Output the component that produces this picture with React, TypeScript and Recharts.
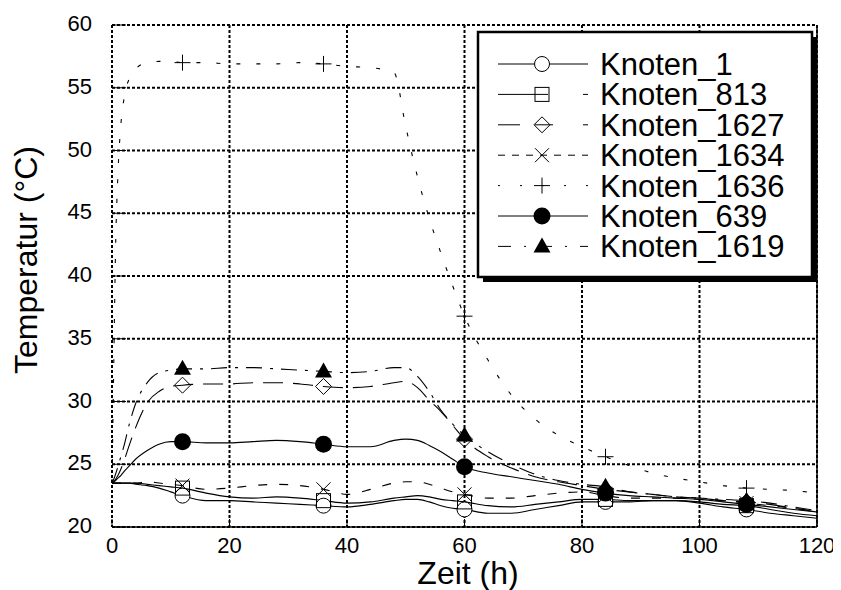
import { LineChart, Line, XAxis, YAxis, CartesianGrid, ReferenceLine } from 'recharts';

// time axis (h), shared by all series
const hours = [0, 0.3, 0.6, 1, 1.5, 2, 3, 4, 6, 8, 10, 12, 16, 20, 24, 28, 32, 36, 40, 44, 48, 50, 52, 54, 56, 58, 60, 64, 68, 72, 76, 80, 84, 88, 92, 96, 100, 104, 108, 112, 116, 120];

const knoten1 = [23.5, 23.5, 23.5, 23.5, 23.5, 23.5, 23.5, 23.4, 23.3, 23.1, 22.8, 22.5, 22.1, 22.1, 22.0, 21.9, 21.8, 21.7, 21.6, 21.8, 22.1, 22.2, 22.2, 22.0, 21.7, 21.5, 21.4, 21.1, 21.1, 21.4, 21.7, 22.0, 22.0, 22.0, 22.1, 22.1, 21.9, 21.6, 21.4, 21.1, 20.9, 20.7];
const knoten813 = [23.5, 23.5, 23.5, 23.5, 23.5, 23.5, 23.5, 23.5, 23.4, 23.3, 23.2, 23.1, 22.7, 22.4, 22.3, 22.4, 22.3, 22.1, 21.9, 22.0, 22.3, 22.4, 22.5, 22.4, 22.2, 22.1, 22.0, 21.7, 21.6, 21.8, 22.0, 22.2, 22.2, 22.1, 22.1, 22.1, 22.0, 21.8, 21.7, 21.4, 21.1, 20.9];
const knoten1627 = [23.5, 23.6, 23.8, 24.1, 24.6, 25.2, 26.6, 27.9, 29.9, 30.8, 31.2, 31.3, 31.4, 31.4, 31.5, 31.5, 31.4, 31.2, 31.1, 31.2, 31.5, 31.6, 31.1, 30.1, 29.2, 28.1, 27.0, 25.6, 24.7, 24.0, 23.6, 23.3, 23.0, 22.8, 22.6, 22.4, 22.3, 22.1, 22.0, 21.8, 21.5, 21.2];
const knoten1634 = [23.5, 23.5, 23.5, 23.5, 23.5, 23.5, 23.5, 23.5, 23.6, 23.5, 23.4, 23.3, 23.0, 23.1, 23.3, 23.4, 23.3, 23.0, 22.6, 23.0, 23.5, 23.6, 23.6, 23.4, 23.1, 22.8, 22.6, 22.3, 22.3, 22.5, 22.7, 22.8, 22.5, 22.3, 22.3, 22.3, 22.2, 22.1, 21.9, 21.7, 21.5, 21.2];
const knoten1636 = [23.5, 33, 42, 48, 52, 54, 55.8, 56.5, 57.0, 57.1, 57.1, 57.0, 57.0, 56.9, 56.9, 56.9, 57.0, 56.9, 56.7, 56.6, 56.2, 51.9, 47.9, 44.6, 41.8, 39.2, 36.8, 33.3, 30.5, 28.6, 27.3, 26.4, 25.6, 24.9, 24.3, 23.9, 23.6, 23.3, 23.1, 23.0, 22.9, 22.7];
const knoten639 = [23.5, 23.6, 23.7, 23.9, 24.1, 24.4, 24.9, 25.4, 26.1, 26.6, 26.8, 26.8, 26.7, 26.7, 26.8, 26.9, 26.8, 26.6, 26.4, 26.4, 26.9, 27.0, 26.9, 26.5, 26.0, 25.4, 24.8, 24.3, 24.0, 23.7, 23.4, 23.0, 22.7, 22.5, 22.4, 22.3, 22.2, 22.0, 21.8, 21.6, 21.4, 21.2];
const knoten1619 = [23.5, 23.8, 24.2, 24.8, 25.6, 26.4, 28.3, 29.8, 31.5, 32.3, 32.5, 32.6, 32.6, 32.7, 32.7, 32.6, 32.5, 32.4, 32.3, 32.4, 32.7, 32.7, 32.0, 30.8, 29.3, 28.2, 27.3, 26.0, 25.0, 24.2, 23.7, 23.4, 23.2, 22.8, 22.6, 22.4, 22.3, 22.2, 22.1, 21.9, 21.6, 21.3];

const markerHours = [12, 36, 60, 84, 108];
const xTicks = [0, 20, 40, 60, 80, 100, 120];
const yTicks = [20, 25, 30, 35, 40, 45, 50, 55, 60];

const data = hours.map((h, i) => ({
  h,
  n1: knoten1[i],
  n813: knoten813[i],
  n1627: knoten1627[i],
  n1634: knoten1634[i],
  n1636: knoten1636[i],
  n639: knoten639[i],
  n1619: knoten1619[i],
}));

const series = [
  { key: 'n1', name: 'Knoten_1', shape: 'circle', dash: undefined, legendDash: undefined },
  { key: 'n813', name: 'Knoten_813', shape: 'square', dash: undefined, legendDash: '50 35 5' },
  { key: 'n1627', name: 'Knoten_1627', shape: 'diamond', dash: '20 10', legendDash: '22 15 18 30 5' },
  { key: 'n1634', name: 'Knoten_1634', shape: 'cross', dash: '9 12', legendDash: '7 7' },
  { key: 'n1636', name: 'Knoten_1636', shape: 'plus', dash: '4 16', legendDash: '2 20' },
  { key: 'n639', name: 'Knoten_639', shape: 'dot', dash: undefined, legendDash: undefined },
  { key: 'n1619', name: 'Knoten_1619', shape: 'triangle', dash: '16 8 3 8', legendDash: '13 13 2 13' },
];

const FONT = '"Liberation Sans", Arial, Helvetica, sans-serif';

const Marker = ({ shape, cx, cy }: { shape: string; cx: number; cy: number }) => {
  switch (shape) {
    case 'circle':
      return <circle cx={cx} cy={cy} r={7.5} fill="#fff" stroke="#000" strokeWidth={1} />;
    case 'square':
      return <rect x={cx - 7} y={cy - 7} width={14} height={14} fill="none" stroke="#000" strokeWidth={1} />;
    case 'diamond':
      return <polygon points={`${cx},${cy - 8} ${cx + 8},${cy} ${cx},${cy + 8} ${cx - 8},${cy}`} fill="none" stroke="#000" strokeWidth={1} />;
    case 'cross':
      return (
        <g stroke="#000" strokeWidth={1}>
          <line x1={cx - 7} y1={cy - 7} x2={cx + 7} y2={cy + 7} />
          <line x1={cx - 7} y1={cy + 7} x2={cx + 7} y2={cy - 7} />
        </g>
      );
    case 'plus':
      return (
        <g stroke="#000" strokeWidth={1}>
          <line x1={cx - 8} y1={cy} x2={cx + 8} y2={cy} />
          <line x1={cx} y1={cy - 8} x2={cx} y2={cy + 8} />
        </g>
      );
    case 'dot':
      return <circle cx={cx} cy={cy} r={8.5} fill="#000" />;
    case 'triangle':
      return <polygon points={`${cx},${cy - 9} ${cx + 8.5},${cy + 6} ${cx - 8.5},${cy + 6}`} fill="#000" />;
    default:
      return null;
  }
};

const markerDot = (shape: string) => (props: any) => {
  const { cx, cy, payload, index } = props;
  if (!markerHours.includes(payload.h)) return <g key={`${shape}-${index}`} />;
  return (
    <g key={`${shape}-${index}`}>
      <Marker shape={shape} cx={cx} cy={cy} />
    </g>
  );
};

const YTick = (props: any) => {
  const { x, y, payload } = props;
  return (
    <g>
      <text x={x} y={y + 6} textAnchor="end" fontSize={22} fontFamily={FONT} fill="#000">
        {payload.value}
      </text>
      <line x1={x + 20} x2={x + 34} y1={y} y2={y} stroke="#000" strokeWidth={1} />
    </g>
  );
};

const XTick = (props: any) => {
  const { x, y, payload } = props;
  return (
    <g>
      <text x={x} y={y + 16} textAnchor="middle" fontSize={22} fontFamily={FONT} fill="#000">
        {payload.value}
      </text>
      <line x1={x} x2={x} y1={y - 10} y2={y - 18} stroke="#000" strokeWidth={1} />
    </g>
  );
};

export default function App() {
  const legendX = 470;
  const legendY = 24;
  return (
    <div style={{ position: 'relative', width: 833, height: 582, fontFamily: FONT }}>
      <LineChart width={833} height={582} data={data} margin={{ top: 17, right: 24, left: 0, bottom: 0 }}>
        <CartesianGrid stroke="#000" strokeDasharray="3 2" strokeWidth={2} />
        <XAxis
          dataKey="h"
          type="number"
          domain={[0, 120]}
          ticks={xTicks}
          height={63}
          tickSize={0}
          tickMargin={10}
          tick={<XTick />}
          axisLine={{ stroke: '#000', strokeWidth: 1.5 }}
          tickLine={false}
        />
        <YAxis
          type="number"
          domain={[20, 60]}
          ticks={yTicks}
          width={104}
          tickSize={0}
          tickMargin={20}
          tick={<YTick />}
          axisLine={false}
          tickLine={false}
        />
        <ReferenceLine x={120} stroke="#000" strokeWidth={1.5} />
        {series.map((s) => (
          <Line
            key={s.key}
            dataKey={s.key}
            type="monotone"
            stroke="#000"
            strokeWidth={1.1}
            strokeDasharray={s.dash}
            dot={markerDot(s.shape)}
            activeDot={false}
            isAnimationActive={false}
          />
        ))}
      </LineChart>

      {/* titles + legend box on top of the chart */}
      <svg width={833} height={582} style={{ position: 'absolute', left: 0, top: 0, pointerEvents: 'none' }}>
        <text x={29} y={252} transform="rotate(-90 29 252)" textAnchor="middle" fontSize={32} fontFamily={FONT} fill="#000">
          Temperatur (°C)
        </text>
        <text x={460} y={576} textAnchor="middle" fontSize={32} fontFamily={FONT} fill="#000">
          Zeit (h)
        </text>

        <rect x={legendX + 5} y={legendY + 5} width={334} height={245} fill="#000" />
        <rect x={legendX} y={legendY} width={334} height={245} fill="#fff" stroke="#000" strokeWidth={2.5} />
        {series.map((s, i) => {
          const cy = legendY + 32 + i * 30.4;
          return (
            <g key={s.key}>
              <line x1={legendX + 20} x2={legendX + 110} y1={cy} y2={cy} stroke="#000" strokeWidth={1} strokeDasharray={s.legendDash} />
              <Marker shape={s.shape} cx={legendX + 64} cy={cy} />
              <text x={legendX + 122} y={cy + 11} fontSize={31} fontFamily={FONT} fill="#000">
                {s.name}
              </text>
            </g>
          );
        })}
      </svg>
    </div>
  );
}
